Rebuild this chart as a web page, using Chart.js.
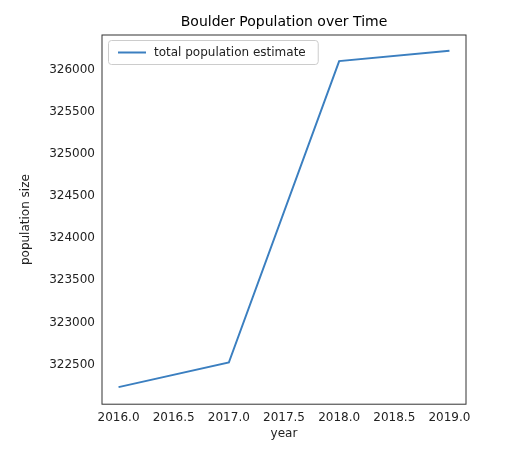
<!DOCTYPE html>
<html><head><meta charset="utf-8">
<script src="https://cdn.jsdelivr.net/npm/chart.js@4"></script>
<style>html,body{margin:0;background:#fff}#w{width:523px;height:469px}</style>
</head><body><div id="w"><canvas id="c"></canvas></div>
<script>
const years = [2016, 2017, 2018, 2019];
const population = [322232, 322524, 326103, 326227];
const seriesLabel = 'total population estimate';
const chartTitle = 'Boulder Population over Time';
const yTickStep = 500;
const xTickStep = 0.5;

const font = {family: 'DejaVu Sans', size: 12};
const framePlugin = {id:'frame', afterDraw(c){const a=c.chartArea,x=c.ctx;x.save();x.strokeStyle='#333';x.lineWidth=1;x.strokeRect(a.left,a.top,a.right-a.left,a.bottom-a.top);
  x.font='14px "DejaVu Sans"';x.fillStyle='#000';x.textAlign='center';x.textBaseline='bottom';x.fillText(chartTitle,(a.left+a.right)/2,a.top-6);x.restore();}};
new Chart(document.getElementById('c'), {
  type: 'line',
  data: {datasets: [{label: seriesLabel, data: years.map((y,i)=>({x:y,y:population[i]})),
    borderColor: '#3b7fc0', backgroundColor: '#3b7fc0', borderWidth: 2, pointRadius: 0, tension: 0}]},
  options: {
    responsive: true, maintainAspectRatio: false, animation: false,
    layout: {padding: {top: 35, right: 57, bottom: 24, left: 15}},
    plugins: {title: {display: false}, legend: {display: false}, tooltip: {enabled: false}},
    scales: {
      x: {type: 'linear', min: 2015.85, max: 2019.15,
        afterBuildTicks(s){const t=[];for(let v=years[0];v<=years[years.length-1]+1e-9;v+=xTickStep)t.push({value:v});s.ticks=t;},
        ticks: {color:'#222', font, callback: v => v.toFixed(1), maxRotation: 0, padding: 2},
        grid: {display: false, drawTicks: true, tickLength: 4, tickColor:'#333'},
        border: {display: false},
        title: {display: true, text: 'year', color:'#222', font, padding: {top: 0}}},
      y: {min: 322029, max: 326413,
        afterBuildTicks(s){const t=[];for(let v=322500;v<=326000;v+=yTickStep)t.push({value:v});s.ticks=t;},
        afterFit(s){s.width = 87;},
        ticks: {color:'#222', font, padding: 3, callback: v => String(v)},
        grid: {display: false, drawTicks: true, tickLength: 4, tickColor:'#333'},
        border: {display: false},
        title: {display: true, text: 'population size', color:'#222', font, padding: {bottom: 4}}}
    }
  },
  plugins: [framePlugin, {id:'leg', afterDraw(c){const x=c.ctx,a=c.chartArea;x.save();x.font='12px "DejaVu Sans"';const w=x.measureText(seriesLabel).width;const bx=a.left+6,by=a.top+5,bw=w+58,bh=24;x.fillStyle='rgba(255,255,255,0.8)';x.strokeStyle='#ccc';x.lineWidth=1;x.beginPath();x.roundRect(bx+0.5,by+0.5,bw,bh,3);x.fill();x.stroke();x.strokeStyle='#3b7fc0';x.lineWidth=2;x.beginPath();x.moveTo(bx+10,by+12.5);x.lineTo(bx+38,by+12.5);x.stroke();x.fillStyle='#222';x.textBaseline='middle';x.fillText(seriesLabel,bx+46,by+13);x.restore();}}]
});
</script></body></html>
